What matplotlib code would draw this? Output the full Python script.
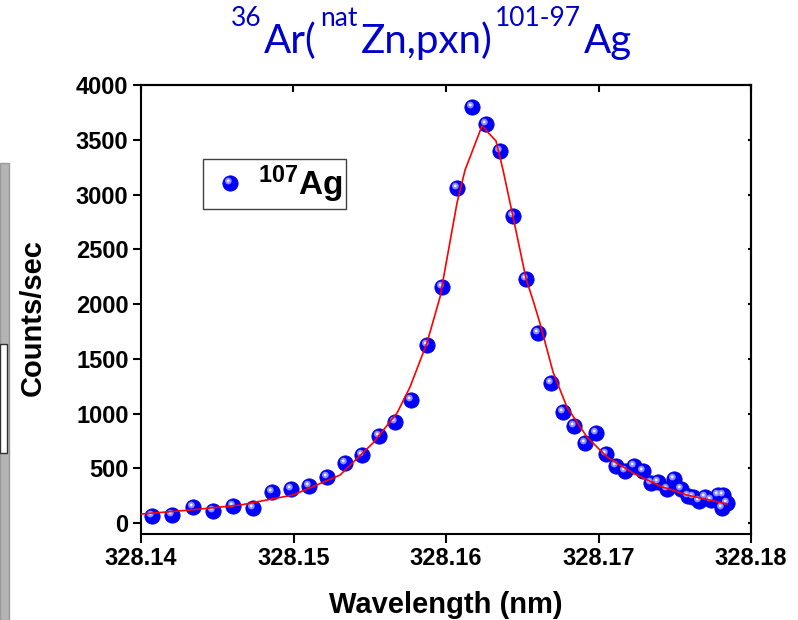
import numpy as np
import matplotlib
matplotlib.use("Agg")
import matplotlib.pyplot as plt
from matplotlib.path import Path
from matplotlib.patches import Rectangle
from matplotlib.legend_handler import HandlerTuple
from matplotlib.ticker import FormatStrFormatter, MultipleLocator

# measured 107Ag counts vs wavelength
wavelength = [328.14072, 328.14203, 328.14341, 328.14472, 328.14603, 328.14734,
              328.14859, 328.14984, 328.15102, 328.15220, 328.15338, 328.15449,
              328.15561, 328.15666, 328.15770, 328.15875, 328.15974, 328.16072,
              328.16170, 328.16262, 328.16354, 328.16439, 328.16525, 328.16603,
              328.16689, 328.16767, 328.16839, 328.16911, 328.16984, 328.17049,
              328.17115, 328.17174, 328.17233, 328.17292, 328.17344, 328.17390,
              328.17449, 328.17495, 328.17541, 328.17587, 328.17620, 328.17659,
              328.17698, 328.17738, 328.17784, 328.17816, 328.17810, 328.17843]
counts = [64, 73, 146, 110, 155, 137,
          283, 310, 338, 420, 548, 621,
          795, 922, 1123, 1626, 2155, 3059,
          3799, 3644, 3397, 2804, 2228, 1735,
          1279, 1014, 886, 731, 822, 630,
          521, 475, 521, 475, 365, 374,
          311, 402, 311, 247, 237, 201,
          237, 210, 256, 256, 137, 183]

# fitted curve
fit_wl = [328.14000, 328.14321, 328.14649, 328.14997, 328.15305, 328.15521,
          328.15679, 328.15764, 328.15875, 328.15961, 328.16072, 328.16125,
          328.16236, 328.16328, 328.16374, 328.16439, 328.16525, 328.16570,
          328.16616, 328.16702, 328.16793, 328.16925, 328.17056, 328.17226,
          328.17403, 328.17580, 328.17843]
fit_counts = [82, 119, 164, 256, 438, 731,
              1005, 1242, 1644, 2064, 2922, 3224,
              3626, 3489, 3224, 2800, 2230, 2037,
              1826, 1379, 1059, 785, 603, 457,
              338, 256, 174]

# title pieces: (text, is superscript)
title_parts = [("36", True), ("Ar(", False), ("nat", True), ("Zn,pxn)", False),
               ("101-97", True), ("Ag", False)]

plt.rcParams["mathtext.fontset"] = "custom"
plt.rcParams["mathtext.rm"] = "Liberation Sans"
plt.rcParams["mathtext.bf"] = "Liberation Sans:bold"

W, H = 798, 620
fig = plt.figure(figsize=(W / 100, H / 100), dpi=100)
ax = fig.add_axes([141 / W, 1 - 534 / H, 610 / W, 449 / H])


def spot(cx, cy, r):
    # circle marker that keeps its offset from the marker centre
    p = Path.circle((cx, cy), r)
    return Path(p.vertices, p.codes), np.abs(p.vertices).max() / 0.5


ms = 11
glow, k1 = spot(-0.14, 0.16, 0.22)
shine, k2 = spot(-0.15, 0.17, 0.09)

h1, = ax.plot(wavelength, counts, ls="none", marker="o", ms=ms,
              mfc="#0000ff", mec="#0000dd", mew=0.6, zorder=3)
h2, = ax.plot(wavelength, counts, ls="none", marker=glow, ms=ms * k1,
              mfc="#8c8cff", mec="none", zorder=3)
h3, = ax.plot(wavelength, counts, ls="none", marker=shine, ms=ms * k2,
              mfc="#f0f0ff", mec="none", zorder=3)
ax.plot(fit_wl, fit_counts, color="red", lw=1.2, zorder=4)

ax.set_xlim(328.14, 328.18)
ax.set_ylim(-100, 4000)
ax.xaxis.set_major_locator(MultipleLocator(0.01))
ax.xaxis.set_major_formatter(FormatStrFormatter("%.2f"))
ax.yaxis.set_major_locator(MultipleLocator(500))

for s in ax.spines.values():
    s.set_linewidth(1.5)
ax.tick_params(axis="x", direction="out", length=6.5, width=1.5, pad=3, top=False)
ax.tick_params(axis="y", direction="out", length=6, width=1.5, pad=3)
for lab in ax.get_xticklabels() + ax.get_yticklabels():
    lab.set_fontfamily("Liberation Sans")
    lab.set_fontweight("bold")
    lab.set_fontsize(17)

# mirrored inward ticks on top and right
top = ax.secondary_xaxis("top")
top.set_xticks(ax.get_xticks())
top.tick_params(direction="in", length=5, width=1.5, labeltop=False)
right = ax.secondary_yaxis("right")
right.set_yticks(ax.get_yticks())
right.tick_params(direction="in", length=2, width=1.5, labelright=False)
for sa in (top, right):
    for s in sa.spines.values():
        s.set_linewidth(1.5)

leg = ax.legend([(h1, h2, h3)], [r"$\mathbf{^{107}Ag}$"],
                handler_map={tuple: HandlerTuple(ndivide=1, pad=0)},
                loc="upper left", bbox_to_anchor=(0.1016, 0.835), borderaxespad=0,
                fontsize=24, frameon=True, fancybox=False, framealpha=1,
                edgecolor="#404040", borderpad=0.12, handlelength=1.4,
                handletextpad=0.12)
leg.get_frame().set_linewidth(1.0)

fig.text(446 / W, 1 - 605 / H, "Wavelength (nm)", family="Liberation Sans",
         fontweight="bold", fontsize=21, ha="center", va="center")
fig.text(33 / W, 1 - 318 / H, "Counts/sec", family="Liberation Sans",
         fontweight="bold", fontsize=21, rotation=90, ha="center", va="center")

# title: big text with small raised parts, laid out piece by piece
renderer = fig.canvas.get_renderer()
gap = 3
pieces = []
for txt, sup in title_parts:
    t = fig.text(0, 1 - (26 if sup else 53) / H, txt, family="Lato",
                 fontsize=19 if sup else 29, color="#0000cc", ha="left",
                 va="baseline")
    pieces.append(t)
widths = [t.get_window_extent(renderer).width for t in pieces]
x = 431.5 - (sum(widths) + gap * (len(pieces) - 1)) / 2
for t, w in zip(pieces, widths):
    t.set_x(x / W)
    x += w + gap

# edge of the slide panel on the far left
fig.patches.append(Rectangle((0, 0), 9 / W, 1 - 163 / H, transform=fig.transFigure,
                             facecolor="#b4b4b4", edgecolor="#9a9a9a", lw=1.0))
fig.patches.append(Rectangle((0, 1 - 453 / H), 7 / W, 109 / H,
                             transform=fig.transFigure, facecolor="white",
                             edgecolor="#303030", lw=1.0))

fig.savefig("out.png", dpi=100)
